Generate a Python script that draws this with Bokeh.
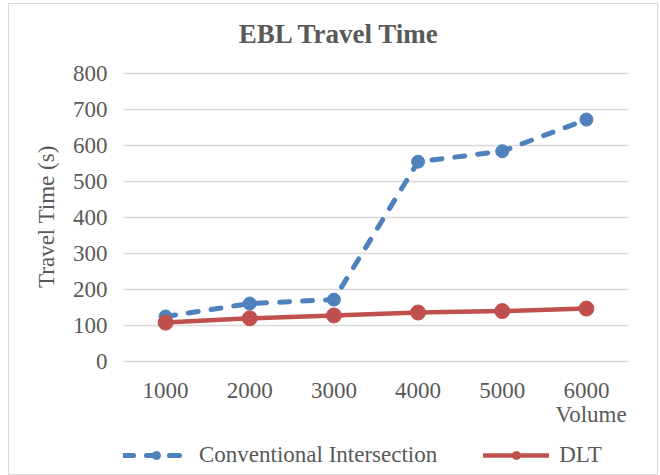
from bokeh.plotting import figure
from bokeh.models import (FactorRange, Range1d, Legend, LegendItem, ColumnDataSource,
                          FixedTicker, Label)
from bokeh.embed import file_html
from bokeh.resources import INLINE

volumes = ["1000", "2000", "3000", "4000", "5000", "6000"]
conventional = [125, 161, 172, 555, 584, 672]
dlt = [108, 120, 128, 136, 140, 147]
y_ticks = [0, 100, 200, 300, 400, 500, 600, 700, 800]
title_text = "EBL Travel Time"
y_title = "Travel Time (s)"
x_title = "Volume"

FONT = "Liberation Serif"
GREY = "#595959"
BLUE = "#4F81BD"
RED = "#C0504D"
NBSP = "\u00a0"

src = ColumnDataSource(dict(x=volumes, conv=conventional, dlt=dlt))

# y scale: 0.36 px per unit; the frame extends above 800 (title) and below 0 (x labels, legend)
PX = 0.36
y_top = 800 + 59 / PX
y_bottom = -109 / PX
p = figure(x_range=FactorRange(*volumes, range_padding=0), y_range=Range1d(y_bottom, y_top),
           width=650, height=472, frame_width=505, frame_height=456,
           min_border_left=114, min_border_right=29, min_border_top=10, min_border_bottom=4,
           title_location=None, output_backend="svg", toolbar_location=None)
p.styles = {"border": "1px solid #d9d9d9", "box-sizing": "border-box", "margin": "3px 0 0 8px"}
p.outline_line_color = None

p.xgrid.grid_line_color = None
p.ygrid.grid_line_color = "#d9d9d9"
p.ygrid.grid_line_width = 1.3
p.yaxis.ticker = FixedTicker(ticks=y_ticks)

for ax in (p.xaxis, p.yaxis):
    ax.axis_line_color = None
    ax.major_tick_line_color = None
    ax.minor_tick_line_color = None
    ax.major_tick_out = 0
    ax.major_tick_in = 0
    ax.major_label_text_font = FONT
    ax.major_label_text_font_size = "23px"
    ax.major_label_text_color = GREY
    ax.axis_label_text_font = FONT
    ax.axis_label_text_font_size = "23px"
    ax.axis_label_text_font_style = "normal"
    ax.axis_label_text_color = GREY
p.yaxis.major_label_standoff = 16
p.yaxis.axis_label = NBSP * 9 + y_title
p.yaxis.axis_label_standoff = 11

p.xaxis.fixed_location = 0
p.xaxis.major_label_standoff = 21
p.xaxis.axis_label = x_title + NBSP * 13
p.xaxis.axis_label_standoff = 1
p.xaxis[0].axis_label_align = "end"

# title inside the (extended) frame, centred over the chart area
p.add_layout(Label(x=2.566, y=800 + 39.5 / PX, text=title_text, text_align="center",
                   text_baseline="middle", text_font=FONT, text_font_size="27px",
                   text_font_style="bold", text_color=GREY))

r1 = p.line("x", "conv", source=src, line_color=BLUE, line_width=5, line_dash="10 13", line_cap="round")
s1 = p.scatter("x", "conv", source=src, size=13, fill_color=BLUE, line_color=BLUE)
r2 = p.line("x", "dlt", source=src, line_color=RED, line_width=4.5, line_cap="round")
s2 = p.scatter("x", "dlt", source=src, size=15, fill_color=RED, line_color=RED)

legend = Legend(items=[LegendItem(label="Conventional Intersection", renderers=[r1, s1]),
                       LegendItem(label="DLT", renderers=[r2, s2])],
                orientation="horizontal", location=(0, 2),
                label_text_font=FONT, label_text_font_size="23px", label_text_color=GREY,
                glyph_width=66, label_standoff=10, spacing=46, padding=0, margin=0,
                border_line_color=None, background_fill_alpha=0)
p.add_layout(legend, "center")

open("out.html", "w").write(file_html(p, INLINE))
